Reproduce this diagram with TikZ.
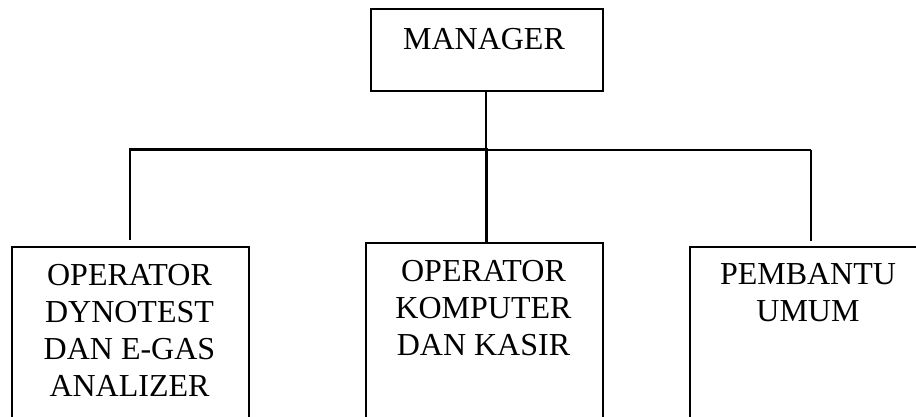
\documentclass[tikz,border=0pt]{standalone}
\usepackage{fontspec}
\setmainfont{Liberation Serif}
\begin{document}
\begin{tikzpicture}[x=1pt,y=-1pt,
  box/.style={draw, line width=1.6pt, inner sep=0pt, anchor=north west},
  lbl/.style={anchor=north, inner sep=0pt, align=center,
              font=\fontsize{32}{37}\selectfont}]
\useasboundingbox (0,0) rectangle (916,417);
\clip (0,0) rectangle (916,417);

% boxes
\node[box, minimum width=232pt, minimum height=82pt]  (mgr) at (370,8) {};
\node[box, minimum width=237pt, minimum height=230pt] (op1) at (11,246) {};
\node[box, minimum width=237pt, minimum height=230pt] (op2) at (365,242) {};
\node[box, minimum width=238pt, minimum height=230pt] (pb)  at (689,246) {};

% labels
\node[lbl] (mgrtxt) at (484,28.5)    {MANAGER};
\node[lbl] (op1txt) at (129.5,264.5) {OPERATOR\\DYNOTEST\\DAN E-GAS\\ANALIZER};
\node[lbl] (op2txt) at (483.5,260.5) {OPERATOR\\KOMPUTER\\DAN KASIR};
\node[lbl] (pbtxt)  at (808,263.5)   {PEMBANTU\\UMUM};

% connectors
\coordinate (hub) at (486,150);
\coordinate (jl)  at (130,150);
\coordinate (jr)  at (811,150);
\draw[line width=1.4pt] (mgr.south -| hub) -- (hub);
\draw[line width=3pt, line cap=rect] (hub) -- (jl);
\draw[line width=1.5pt] (hub) -- (jr);
\draw[line width=2pt] (jl) -- ++(0,90);
\draw[line width=3pt] (hub) -- (hub |- op2.north);
\draw[line width=1.4pt] (jr) -- ++(0,91);
\end{tikzpicture}
\end{document}
